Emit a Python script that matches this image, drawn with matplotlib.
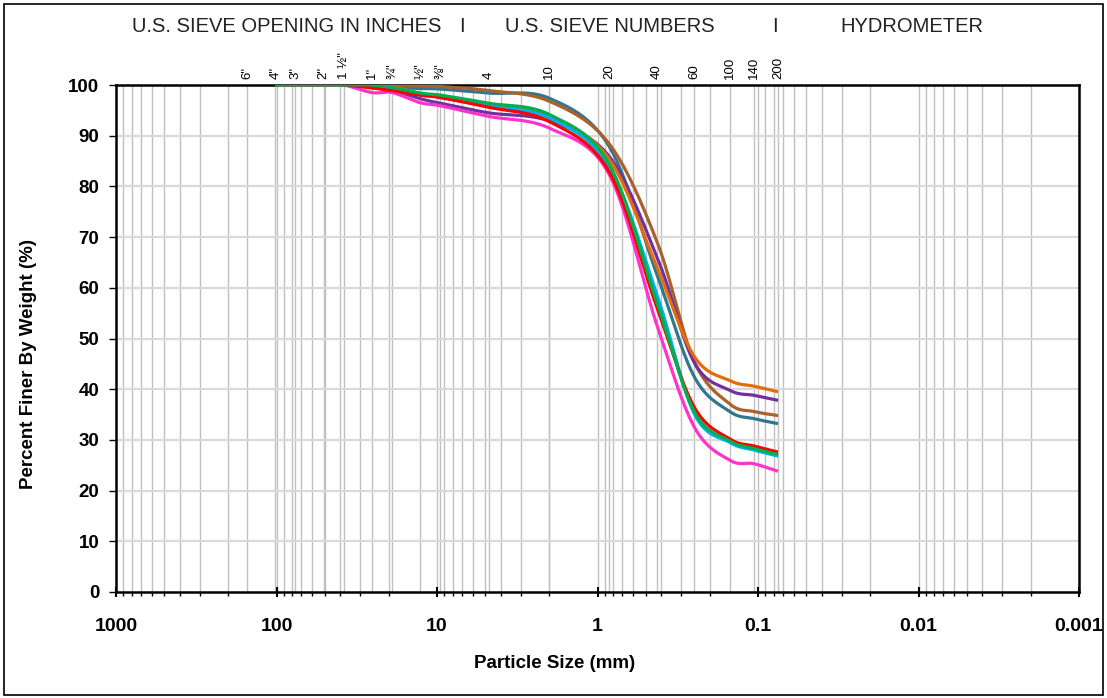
import numpy as np
import matplotlib
matplotlib.use("Agg")
import matplotlib.pyplot as plt
from matplotlib.patches import Rectangle

plt.rcParams['font.family'] = ['Liberation Sans', 'DejaVu Sans']

# sieve sizes (mm) and their labels along the top
sieve_mm = [152.4, 101.6, 76.2, 50.8, 38.1, 25.4, 19.05, 12.7, 9.525,
            4.75, 2.0, 0.85, 0.425, 0.25, 0.15, 0.106, 0.075]
sieve_labels = ['6"', '4"', '3"', '2"', '1 ½"', '1"', '¾"', '½"', '⅜"',
                '4', '10', '20', '40', '60', '100', '140', '200']

# grading data: percent passing at each sieve from 4" down to #200
test_mm = [101.6, 76.2, 50.8, 38.1, 25.4, 19.05, 12.7, 9.525,
           4.75, 2.0, 0.85, 0.425, 0.25, 0.15, 0.106, 0.075]
teal = [100, 100, 100, 100, 100, 99.6, 99.3, 99.2, 98.4, 97.4, 88.0, 62.5, 42.5, 35.6, 34.2, 33.2]
brown = [100, 100, 100, 100, 100, 99.9, 99.8, 99.7, 98.9, 96.8, 88.5, 69.0, 45.5, 37.1, 35.6, 34.8]
purple = [100, 100, 100, 100, 99.6, 99.0, 97.3, 96.4, 94.5, 92.9, 86.0, 66.0, 45.3, 39.8, 38.8, 37.8]
orange = [100, 100, 100, 100, 100, 99.7, 98.3, 97.8, 96.0, 93.8, 85.5, 64.0, 46.5, 41.7, 40.6, 39.5]
pink = [100, 100, 100, 100, 98.5, 98.5, 96.5, 95.9, 93.8, 91.5, 82.5, 52.5, 32.6, 26.0, 25.3, 23.8]
cyan = [100, 100, 100, 100, 99.8, 99.2, 98.0, 97.6, 95.8, 93.5, 84.0, 58.5, 35.2, 29.5, 28.0, 26.8]
red = [100, 100, 100, 100, 99.4, 98.9, 98.0, 97.5, 95.6, 92.8, 83.0, 56.0, 36.5, 30.2, 28.8, 27.6]
green = [100, 100, 100, 100, 100, 99.5, 98.4, 98.0, 96.4, 94.2, 84.5, 57.0, 35.6, 29.8, 28.3, 27.1]

series = [(teal, '#31768E'), (brown, '#A8622C'), (purple, '#7030A0'),
          (orange, '#E46C0A'), (pink, '#FF33CC'), (cyan, '#00B0F0'),
          (red, '#FF0000'), (green, '#00B050')]


def smooth(xs, ys, n=30):
    # Excel-style smoothed line (Catmull-Rom bezier) in log-x space
    u = np.log10(xs)
    p = np.column_stack([u, ys])
    p = np.vstack([p[0], p, p[-1]])
    out = []
    t = np.linspace(0, 1, n)[:, None]
    for i in range(1, len(p) - 2):
        b0 = p[i]
        b1 = p[i] + (p[i + 1] - p[i - 1]) / 6
        b2 = p[i + 1] - (p[i + 2] - p[i]) / 6
        b3 = p[i + 1]
        seg = ((1 - t) ** 3) * b0 + 3 * ((1 - t) ** 2) * t * b1 + 3 * (1 - t) * t ** 2 * b2 + t ** 3 * b3
        out.append(seg)
    out = np.vstack(out)
    return 10 ** out[:, 0], out[:, 1]


fig = plt.figure(figsize=(11.07, 6.98), dpi=100)
ax = fig.add_axes([116 / 1107, 1 - 592 / 698, 963 / 1107, 507 / 698])

ax.set_xscale('log')
ax.set_xlim(1000, 0.001)
ax.set_ylim(0, 100)

# vertical grid: minor log positions, decades and sieve sizes
vlines = []
for dec in [100, 10, 1, 0.1, 0.01, 0.001]:
    for k in range(1, 10):
        vlines.append(k * dec)
vlines += sieve_mm
for v in vlines:
    if 0.001 < v < 1000:
        ax.axvline(v, color='#c0c0c0', lw=1.0, zorder=1)
for yv in range(10, 100, 10):
    ax.axhline(yv, color='#d9d9d9', lw=1.6, zorder=1)

for ys, col in series:
    sx, sy = smooth(test_mm, ys)
    ax.plot(sx, sy, color=col, lw=2.3, solid_capstyle='butt', zorder=3)

ax.set_yticks(range(0, 101, 10))
ax.set_xticks([1000, 100, 10, 1, 0.1, 0.01, 0.001])
ax.set_xticklabels(['1000', '100', '10', '1', '0.1', '0.01', '0.001'])
ax.tick_params(axis='x', which='major', direction='inout', length=7, width=1.5,
               pad=15, labelsize=14)
ax.tick_params(axis='x', which='minor', direction='out', length=3, width=1.0)
ax.tick_params(axis='y', direction='out', length=5, width=1.0, pad=7, labelsize=13.5)
for lab in ax.get_xticklabels() + ax.get_yticklabels():
    lab.set_fontweight('bold')
for s in ax.spines.values():
    s.set_linewidth(1.8)
    s.set_color('black')

ax.set_xlabel('Particle Size (mm)', fontsize=13.5, fontweight='bold')
ax.xaxis.set_label_coords(0.455, -0.125)
ax.set_ylabel('Percent Finer By Weight (%)', fontsize=13.5, fontweight='bold')
ax.yaxis.set_label_coords(-0.082, 0.45)

# sieve labels above the plot
for d, lab in zip(sieve_mm, sieve_labels):
    ax.text(d, 101.2, lab, rotation=90, ha='center', va='bottom', fontsize=9.5,
            family=['Liberation Sans', 'DejaVu Sans'])

# header row
hy = 1 - 27 / 698
hdr = dict(ha='center', va='center', fontsize=14.5, color='#222222')
fig.text(287 / 1107, hy, 'U.S. SIEVE OPENING IN INCHES', **hdr)
fig.text(462 / 1107, hy, 'I', **hdr)
fig.text(610 / 1107, hy, 'U.S. SIEVE NUMBERS', **hdr)
fig.text(775 / 1107, hy, 'I', **hdr)
fig.text(912 / 1107, hy, 'HYDROMETER', **hdr)

fig.patches.append(Rectangle((4 / 1107, 3 / 698), 1099 / 1107, 691 / 698,
                             transform=fig.transFigure, fill=False,
                             edgecolor='black', lw=1.2))

fig.savefig('out.png', dpi=100)
